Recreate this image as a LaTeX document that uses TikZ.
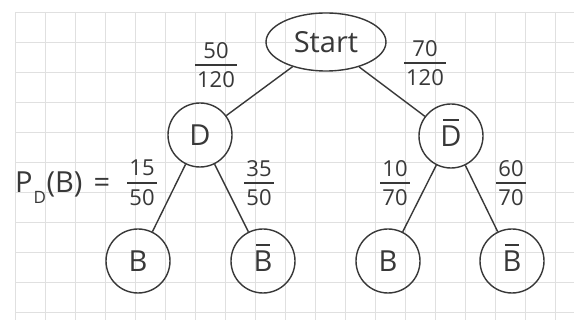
\documentclass[tikz,border=0pt]{standalone}
\usepackage{fontspec}
\setmainfont{Open Sans}
\usetikzlibrary{shapes.geometric}
\newsavebox\ovbox
\newcommand\ovl[1]{\sbox\ovbox{#1}\vbox{\offinterlineskip\hbox to \wd\ovbox{\hss\vrule width .75\wd\ovbox height 1.4pt depth 0pt\hss}\kern 5pt\box\ovbox}}
\newcommand\frc[2]{\vbox{\offinterlineskip\halign{\hfil\kern2pt##\kern2pt\hfil\cr #1\cr\noalign{\kern 6pt\hrule height 1.4pt\kern 6pt}#2\cr}}}
\begin{document}
\begin{tikzpicture}[x=1pt,y=-1pt,
  every node/.style={text=black!78},
  lab/.style={font=\fontsize{29}{32}\selectfont},
  ev/.style={lab, draw=black!78, line width=1.4pt, circle, minimum size=64pt, inner sep=0pt, text height=21pt, text depth=0pt},
  st/.style={lab, draw=black!78, line width=1.4pt, ellipse, minimum width=120pt, minimum height=58pt, inner sep=0pt, text height=21pt, text depth=0pt},
  br/.style={draw=black!78, line width=1.4pt},
  frlab/.style={font=\fontsize{22}{24}\selectfont, inner sep=0pt},
  gridline/.style={draw=black!12, line width=0.8pt}]
\fill[white] (0,0) rectangle (574,320);
\useasboundingbox (0,0) rectangle (574,320);
\foreach \x in {15,45,...,574} \draw[gridline] (\x,12) -- (\x,320);
\foreach \y in {12,42,...,320} \draw[gridline] (15,\y) -- (574,\y);
% nodes
\node[st] (S) at (326,42) {Start};
\node[ev] (D) at (200,135) {D};
\node[ev] (Dn) at (451,136) {\ovl{D}};
\node[ev] (B1) at (138,261) {B};
\node[ev] (B2) at (263,261) {\ovl{B}};
\node[ev] (B3) at (388,261) {B};
\node[ev] (B4) at (512,261) {\ovl{B}};
% branches
\draw[br] (S) -- (D);
\draw[br] (S) -- (Dn);
\draw[br] (D) -- (B1);
\draw[br] (D) -- (B2);
\draw[br] (Dn) -- (B3);
\draw[br] (Dn) -- (B4);
% labels
\node[frlab] (f1) at (216,65) {\frc{50}{120}};
\node[frlab] (f2) at (425,63) {\frc{70}{120}};
\node[frlab] (f3) at (142,183) {\frc{15}{50}};
\node[frlab] (f4) at (259,183) {\frc{35}{50}};
\node[frlab] (f5) at (395,183) {\frc{10}{70}};
\node[frlab] (f6) at (511,183) {\frc{60}{70}};
\node[lab, anchor=base west, inner sep=0pt] (pdb) at (15,193) {P\kern1pt\raisebox{-11pt}{\fontsize{17}{17}\selectfont D}\kern0.5pt(B)\hspace{11pt}=};
\end{tikzpicture}
\end{document}
